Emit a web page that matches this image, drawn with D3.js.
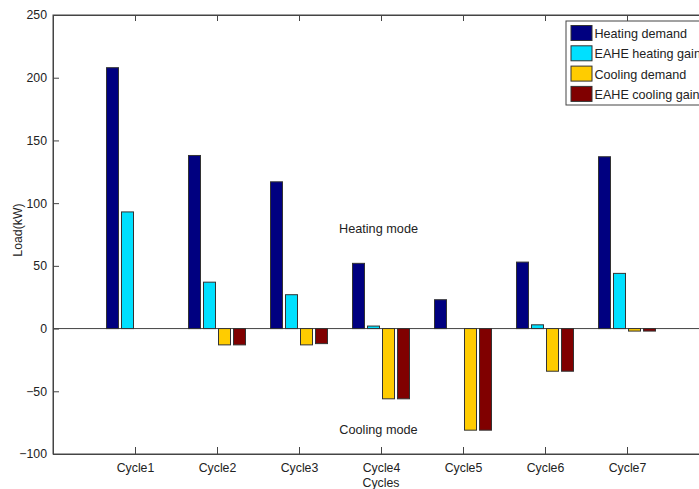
<!DOCTYPE html>
<html>
<head>
<meta charset="utf-8">
<script src="https://cdn.jsdelivr.net/npm/d3@7"></script>
<style>
  body { margin: 0; background: #fff; }
  text { font-family: "Liberation Sans", Arial, sans-serif; fill: #222; }
</style>
</head>
<body>
<div class="chart"></div>
<script>
var width = 699,
    height = 489;

var cycles = ["Cycle1", "Cycle2", "Cycle3", "Cycle4", "Cycle5", "Cycle6", "Cycle7"];
var series = ["Heating demand", "EAHE heating gain", "Cooling demand", "EAHE cooling gain"];
var colors = ["#000080", "#00e0ff", "#ffcc00", "#800000"];
var heatingDemand = [208, 138, 117, 52, 23, 53, 137];
var heatingGain = [93, 37, 27, 2, 0, 3, 44];
var coolingDemand = [0, -13, -13, -56, -81, -34, -2];
var coolingGain = [0, -13, -12, -56, -81, -34, -2];
var yTicks = [-100, -50, 0, 50, 100, 150, 200, 250];

var values = [heatingDemand, heatingGain, coolingDemand, coolingGain];

var margin = {left: 53, top: 15, right: 709, bottom: 454};

var svg = d3.select(".chart").append("svg")
    .attr("width", width)
    .attr("height", height);

var x = d3.scaleLinear().domain([0, 8]).range([margin.left, margin.right]);
var y = d3.scaleLinear().domain([-100, 250]).range([margin.bottom, margin.top]);
var sub = d3.scaleBand().domain(series).range([-30, 30])
    .paddingInner(0.2).paddingOuter(0.1);

// frame
svg.append("rect")
    .attr("x", margin.left)
    .attr("y", margin.top)
    .attr("width", margin.right - margin.left)
    .attr("height", margin.bottom - margin.top)
    .attr("fill", "none")
    .attr("stroke", "#444")
    .attr("stroke-width", 1);

// zero line
svg.append("line")
    .attr("x1", margin.left).attr("x2", margin.right)
    .attr("y1", y(0)).attr("y2", y(0))
    .attr("stroke", "#444");

// bars
series.forEach(function(s, i) {
  var pts = values[i].map(function(v, j) { return {cycle: j + 1, value: v}; })
    .filter(function(d) { return d.value !== 0; });
  svg.append("g").selectAll("rect")
    .data(pts)
    .enter().append("rect")
      .attr("x", function(d) { return x(d.cycle) + sub(s); })
      .attr("y", function(d) { return y(Math.max(0, d.value)); })
      .attr("width", sub.bandwidth())
      .attr("height", function(d) { return Math.abs(y(d.value) - y(0)); })
      .attr("fill", colors[i])
      .attr("stroke", "#333")
      .attr("stroke-width", 1);
});

// axes (ticks point inward, matlab style)
var xAxis = d3.axisBottom(x)
    .tickValues(d3.range(1, 8))
    .tickFormat(function(d) { return cycles[d - 1]; })
    .tickSizeInner(-7).tickSizeOuter(0).tickPadding(9);
var gx = svg.append("g")
    .attr("transform", "translate(0," + margin.bottom + ")")
    .call(xAxis);

var gxTop = svg.append("g")
    .attr("transform", "translate(0," + margin.top + ")")
    .call(d3.axisTop(x).tickValues(d3.range(1, 8)).tickFormat("")
      .tickSizeInner(-6).tickSizeOuter(0));

var yAxis = d3.axisLeft(y)
    .tickValues(yTicks)
    .tickSizeInner(-6).tickSizeOuter(0).tickPadding(6);
var gy = svg.append("g")
    .attr("transform", "translate(" + margin.left + ",0)")
    .call(yAxis);

[gx, gxTop, gy].forEach(function(g) {
  g.select(".domain").attr("stroke", "#444");
  g.selectAll(".tick line").attr("stroke", "#444");
  g.selectAll(".tick text")
    .attr("font-size", 12.3)
    .attr("font-family", "Liberation Sans, Arial, sans-serif")
    .attr("fill", "#222");
});

// axis titles
svg.append("text")
    .attr("x", x(4))
    .attr("y", 487)
    .attr("text-anchor", "middle")
    .attr("font-size", 12.3)
    .text("Cycles");

svg.append("text")
    .attr("transform", "translate(22,230) rotate(-90)")
    .attr("text-anchor", "middle")
    .attr("font-size", 12.3)
    .text("Load(kW)");

// annotations
svg.append("text")
    .attr("x", 378.5).attr("y", 233)
    .attr("text-anchor", "middle")
    .attr("font-size", 12.7)
    .text("Heating mode");

svg.append("text")
    .attr("x", 378.5).attr("y", 434)
    .attr("text-anchor", "middle")
    .attr("font-size", 12.7)
    .text("Cooling mode");

// legend
var legend = svg.append("g");
legend.append("rect")
    .attr("x", 566).attr("y", 21)
    .attr("width", 145).attr("height", 84)
    .attr("fill", "#fff")
    .attr("stroke", "#444");

var item = legend.selectAll(".item")
    .data(series)
    .enter().append("g")
    .attr("class", "item")
    .attr("transform", function(d, i) { return "translate(571," + (25.5 + i * 20.3) + ")"; });
item.append("rect")
    .attr("width", 21).attr("height", 15)
    .attr("fill", function(d, i) { return colors[i]; })
    .attr("stroke", "#333");
item.append("text")
    .attr("x", 23.5).attr("y", 12.5)
    .attr("font-size", 12.6)
    .text(function(d) { return d; });
</script>
</body>
</html>
